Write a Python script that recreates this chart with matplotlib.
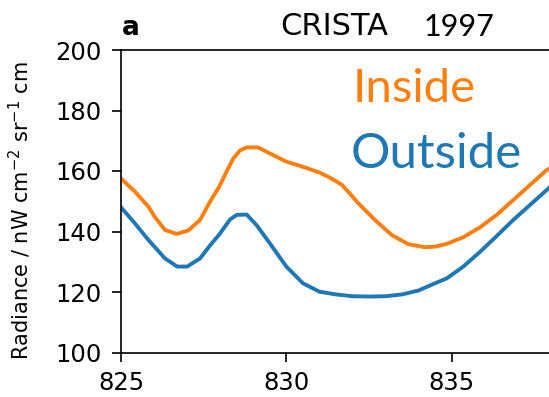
import matplotlib.pyplot as plt

# wavenumber (cm-1) and radiance, inside / outside
x_inside = [825.0, 825.42, 825.83, 826.03, 826.33, 826.68, 827.03, 827.39, 827.7,
            827.97, 828.2, 828.4, 828.6, 828.8, 829.15, 829.5, 830.0, 830.5,
            831.0, 831.3, 831.67, 831.9, 832.18, 832.68, 833.19, 833.69, 834.19,
            834.5, 834.85, 835.35, 835.86, 836.36, 836.86, 837.37, 837.87, 838.0]
y_inside = [157.5, 153.2, 148.2, 144.7, 140.5, 139.2, 140.3, 143.8, 150.0,
            154.8, 160.0, 164.2, 166.8, 167.8, 167.8, 165.8, 163.1, 161.4,
            159.5, 157.9, 155.5, 152.8, 149.3, 143.8, 138.8, 135.8, 134.8,
            135.0, 135.9, 138.1, 141.4, 145.5, 150.4, 155.4, 160.3, 161.0]

x_outside = [825.0, 825.42, 825.83, 826.33, 826.7, 827.0, 827.39, 827.7, 827.97,
             828.3, 828.5, 828.8, 829.1, 829.5, 830.0, 830.5, 831.0, 831.5,
             832.0, 832.5, 833.0, 833.5, 834.0, 834.5, 834.85, 835.35, 835.86,
             836.36, 836.86, 837.37, 837.87, 838.0]
y_outside = [148.0, 142.7, 137.2, 131.1, 128.4, 128.4, 131.1, 135.5, 139.0,
             144.0, 145.5, 145.6, 142.1, 136.1, 128.4, 122.9, 120.1, 119.2,
             118.6, 118.5, 118.6, 119.2, 120.5, 122.9, 124.5, 128.4, 133.3,
             138.5, 143.8, 148.8, 153.7, 155.0]

xticks = [825, 830, 835]
yticks = [100, 120, 140, 160, 180, 200]

fig = plt.figure(figsize=(5.49, 3.97), dpi=100)
ax = fig.add_axes([121 / 549, 1 - 352.5 / 397, (560 - 121) / 549, (352.5 - 50) / 397])

ax.plot(x_inside, y_inside, color='#ff7f0e', lw=2.8)
ax.plot(x_outside, y_outside, color='#1f77b4', lw=2.8)

ax.set_xlim(825, 825 + (560 - 121) / 33.07)
ax.set_ylim(100, 200)
ax.set_xticks(xticks)
ax.set_yticks(yticks)
ax.tick_params(labelsize=17.5, length=6.5, width=1.2)
ax.tick_params(axis='y', pad=7.5)
ax.tick_params(axis='x', pad=7)
for s in ax.spines.values():
    s.set_linewidth(1.2)
ax.spines['right'].set_visible(False)

ax.set_ylabel('Radiance / nW cm$^{-2}$ sr$^{-1}$ cm', fontsize=15)
ax.yaxis.set_label_coords((33 - 121) / 439, 0.47)

fig.text(122 / 549, 1 - 35 / 397, 'a', fontsize=19, fontweight='bold')
fig.text(280 / 549, 1 - 35 / 397, 'CRISTA', fontsize=22)
fig.text(424 / 549, 1 - 36 / 397, '1997', fontsize=22, family='Lato')
fig.text(353 / 549, 1 - 101.7 / 397, 'Inside', fontsize=34, family='Lato', color='#ff7f0e')
fig.text(351 / 549, 1 - 168.3 / 397, 'Outside', fontsize=35.5, family='Lato', color='#1f77b4')

fig.savefig('out.png', dpi=100)
